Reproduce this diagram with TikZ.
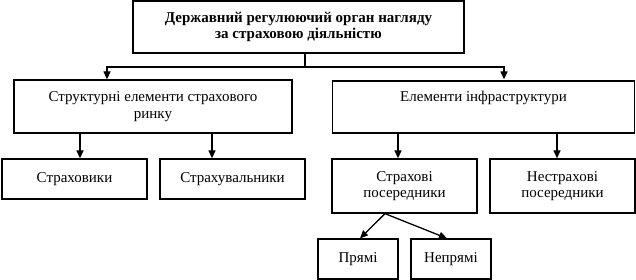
\documentclass[tikz,border=0pt]{standalone}
\usepackage{fontspec}
\setmainfont{Liberation Serif}
\usetikzlibrary{arrows.meta}
\begin{document}
\begin{tikzpicture}[x=1pt,y=-1pt,
  box/.style={draw,line width=1.3pt,inner sep=0pt,align=center,
    font=\fontsize{15}{16.5}\selectfont},
  arr/.style={line width=1.3pt,-{Triangle[length=8pt,width=7pt]}},
  ln/.style={line width=1.3pt}]
\useasboundingbox (0,0) rectangle (636,280);
\node[box,minimum width=331pt,minimum height=52pt,font=\bfseries\fontsize{15}{16.5}\selectfont] (top) at (298.5,27) {Державний регулюючий орган нагляду\\за страховою діяльністю};
\node[box,minimum width=278pt,minimum height=53pt] (sre) at (153,106.5) {Структурні елементи страхового\\ринку};
\node[box,minimum width=302pt,minimum height=52pt] (inf) at (483.5,107) {Елементи інфраструктури\\\strut};
\node[box,minimum width=145pt,minimum height=40pt] (str) at (74.5,179) {Страховики};
\node[box,minimum width=145pt,minimum height=40pt] (stv) at (232.5,179) {Страхувальники};
\node[box,minimum width=145pt,minimum height=54pt] (spos) at (404.5,186) {Страхові\\посередники};
\node[box,minimum width=145pt,minimum height=54pt] (npos) at (562.5,186) {Нестрахові\\посередники};
\node[box,minimum width=80pt,minimum height=40pt] (pr) at (358,259) {Прямі};
\node[box,minimum width=80pt,minimum height=40pt] (npr) at (451,259) {Непрямі};
% junction
\coordinate (j) at (305,67);
\coordinate (jl) at (107,67);
\coordinate (jr) at (504,67);
\draw[ln] (top.south -| j) -- (j);
\draw[arr] (jl) -- (j) -- (jr) -- (sre.north -| jr);
\draw[arr] (j) -- (jl) -- (sre.north -| jl);
\coordinate (a1) at (80,0);
\coordinate (a2) at (212,0);
\coordinate (a3) at (398,0);
\coordinate (a4) at (557,0);
\draw[arr] (sre.south -| a1) -- (str.north -| a1);
\draw[arr] (sre.south -| a2) -- (stv.north -| a2);
\draw[arr] (inf.south -| a3) -- (spos.north -| a3);
\draw[arr] (inf.south -| a4) -- (npos.north -| a4);
\coordinate (s) at (385,0);
\coordinate (p1) at (360,0);
\coordinate (p2) at (447,0);
\draw[arr] (spos.south -| s) -- (pr.north -| p1);
\draw[arr] (spos.south -| s) -- (npr.north -| p2);
\end{tikzpicture}
\end{document}
